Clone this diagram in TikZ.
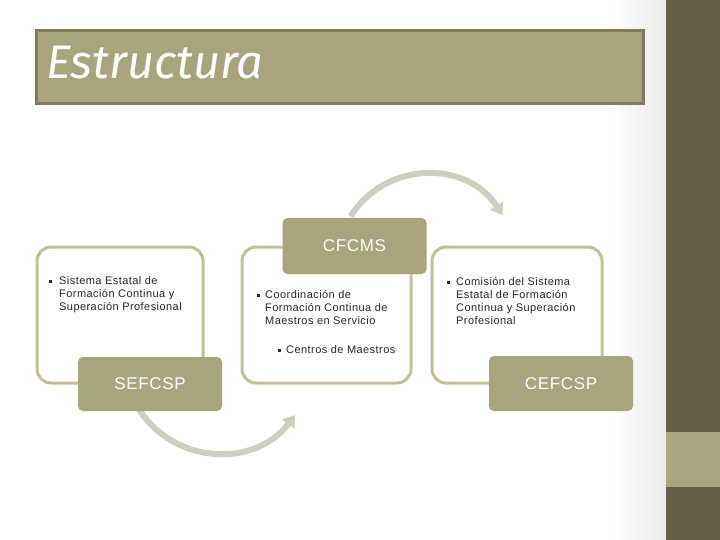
\documentclass[tikz,border=0pt]{standalone}
\usepackage{fontspec}
\setmainfont{Liberation Sans}
\newfontfamily\titlefont{Fira Sans}
\newfontfamily\bodyfont[LetterSpace=4]{Liberation Sans}
\newfontfamily\labelfont[LetterSpace=4]{Liberation Sans}
\usetikzlibrary{arrows.meta}
\definecolor{olivefill}{HTML}{A8A57C}
\definecolor{olivedark}{HTML}{7E7B5F}
\definecolor{barbrown}{HTML}{665E48}
\definecolor{bandolive}{HTML}{A9A77F}
\definecolor{boxline}{HTML}{C3BF9D}
\definecolor{arcgray}{HTML}{D0CEC1}
\definecolor{bodytext}{HTML}{262626}
\tikzset{
  contentbox/.style={draw=boxline, line width=3, fill=white, rounded corners=14, minimum width=#1, minimum height=136, inner sep=0},
  labelbox/.style={fill=olivefill, rounded corners=5, inner sep=0, text=white, font=\labelfont\fontsize{17}{20}\selectfont, minimum width=144, minimum height=#1},
  bodytxt/.style={anchor=north west, inner sep=0, text=bodytext, align=left, font=\bodyfont\fontsize{11}{13}\selectfont},
  bulletbox/.style={inner sep=0, fill=bodytext, minimum width=3.2, minimum height=3.2},
  cyclearc/.style={draw=arcgray, line width=6, -{Triangle[width=15,length=11]}},
}
\begin{document}
\begin{tikzpicture}[x=1pt,y=-1pt]
\useasboundingbox (0,0) rectangle (720,540);
% background
\fill[white] (0,0) rectangle (720,540);
\shade[left color=white, right color=black!8] (610,0) rectangle (666,540);
% right bar
\fill[barbrown] (666,0) rectangle (720,540);
\fill[bandolive] (666,432) rectangle (720,487);
% title
\node[draw=olivedark, line width=3, fill=olivefill, minimum width=607, minimum height=73, inner sep=0] (title) at (339.5,67.5) {};
\node[anchor=base west, inner sep=0, text=white, font=\titlefont\itshape\fontsize{47}{52}\selectfont] (titletext) at (46,79) {Estructura};
% content boxes
\node[contentbox=166] (b1) at (120,315) {};
\node[contentbox=169] (b2) at (326.5,315) {};
\node[contentbox=170] (b3) at (517,315) {};
% arcs (drawn before labels so they emerge from behind them)
\coordinate (a1s) at (350.7,216.3);
\coordinate (a1e) at (502.5,215);
\coordinate (a2s) at (138.4,408.3);
\coordinate (a2e) at (294.9,415.2);
\draw[cyclearc] (a1s) .. controls (385.6,160.5) and (466.6,159.8) .. (a1e);
\draw[cyclearc] (a2s) .. controls (173.7,464.8) and (254.8,468.4) .. (a2e);
% labels
\node[labelbox=54] (l1) at (150,384) {SEFCSP};
\node[labelbox=56] (l2) at (354.5,246) {CFCMS};
\node[labelbox=55] (l3) at (561,383.5) {CEFCSP};
% texts
\node[bodytxt] (t1) at (59,276) {Sistema Estatal de\\Formación Continua y\\Superación Profesional};
\node[bulletbox] (u1) at (50.5,281.5) {};
\node[bodytxt] (t2) at (265,290) {Coordinación de\\Formación Continua de\\Maestros en Servicio};
\node[bulletbox] (u2) at (258.5,295.5) {};
\node[bodytxt] (t3) at (286,345) {Centros de Maestros};
\node[bulletbox] (u3) at (279.5,350.5) {};
\node[bodytxt] (t4) at (456,277) {Comisión del Sistema\\Estatal de Formación\\Continua y Superación\\Profesional};
\node[bulletbox] (u4) at (448.5,282.5) {};
\end{tikzpicture}
\end{document}
